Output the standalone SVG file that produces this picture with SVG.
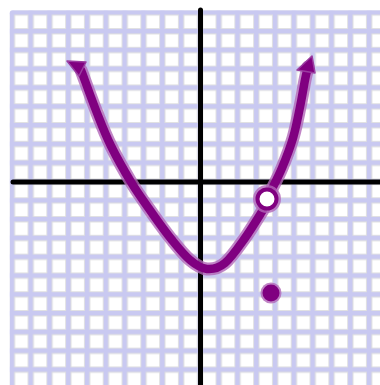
<svg xmlns="http://www.w3.org/2000/svg" width="380" height="385" viewBox="0 0 380 385">
<defs>
<pattern id="cells" patternUnits="userSpaceOnUse" x="9.7" y="10.2" width="18.8" height="18.8">
<rect x="0" y="0" width="18.8" height="18.8" fill="#c9c9f1"/>
<rect x="4.9" y="4.9" width="13.6" height="13.6" fill="#ffffff" stroke="#dedede" stroke-width="1"/>
</pattern>
</defs>
<style>
.axis{stroke:#000;stroke-width:5;stroke-linecap:round;fill:none}
.halo{stroke:#b266b8;stroke-width:13;fill:none;stroke-linecap:round;stroke-linejoin:round;opacity:0.8}
.core{stroke:#800080;stroke-width:8.5;fill:none;stroke-linecap:round;stroke-linejoin:round}
.head{fill:#800080;stroke:#9a3ca0;stroke-width:1.5;stroke-linejoin:round}
</style>
<rect width="380" height="385" fill="#ffffff"/>
<g id="grid">
<rect x="9.7" y="10.2" width="380" height="385" rx="3" fill="url(#cells)"/>
</g>
<g id="axes">
<line class="axis" x1="200.5" y1="10" x2="200.5" y2="390"/>
<line class="axis" x1="13" y1="182" x2="390" y2="182"/>
</g>
<g id="connectors">
<path id="left-branch" class="halo" d="M 81,70 C 83.7,77.2 92,100.3 97,113 C 102,125.7 105.3,134.5 111,146 C 116.7,157.5 124.2,170.8 131,182 C 137.8,193.2 145.2,203.3 152,213 C 158.8,222.7 165.7,232.2 172,240 C 178.3,247.8 184.2,255.2 190,260 C 195.7,264.8 201.2,268.5 207,269 C 212.8,269.5 218.7,268.2 225,263 C 231.3,257.8 238.7,246.8 245,238 C 251.3,229.2 260,214.7 263,210"/>
<path id="right-branch" class="halo" d="M 271,191 C 272.8,187.2 278.3,176.8 282,168 C 285.7,159.2 290,148.2 293,138 C 296,127.8 298,116.7 300,107 C 302,97.3 303.7,86.7 305,80 C 306.3,73.3 307.5,69.2 308,67"/>
<path class="core" d="M 81,70 C 83.7,77.2 92,100.3 97,113 C 102,125.7 105.3,134.5 111,146 C 116.7,157.5 124.2,170.8 131,182 C 137.8,193.2 145.2,203.3 152,213 C 158.8,222.7 165.7,232.2 172,240 C 178.3,247.8 184.2,255.2 190,260 C 195.7,264.8 201.2,268.5 207,269 C 212.8,269.5 218.7,268.2 225,263 C 231.3,257.8 238.7,246.8 245,238 C 251.3,229.2 260,214.7 263,210"/>
<path class="core" d="M 271,191 C 272.8,187.2 278.3,176.8 282,168 C 285.7,159.2 290,148.2 293,138 C 296,127.8 298,116.7 300,107 C 302,97.3 303.7,86.7 305,80 C 306.3,73.3 307.5,69.2 308,67"/>
<polygon class="head" points="67,61 86,62 79,76"/>
<polygon class="head" points="312,56 297,70 315,73"/>
</g>
<g id="open-point">
<circle cx="267" cy="199" r="10" fill="none" stroke="#b266b8" stroke-width="8" opacity="0.8"/>
<circle cx="267" cy="199" r="9.5" fill="#ffffff" stroke="#800080" stroke-width="4"/>
</g>
<g id="filled-point">
<circle cx="271" cy="293" r="10.5" fill="#b266b8" opacity="0.8"/>
<circle cx="271" cy="293" r="8.5" fill="#800080"/>
</g>
</svg>
